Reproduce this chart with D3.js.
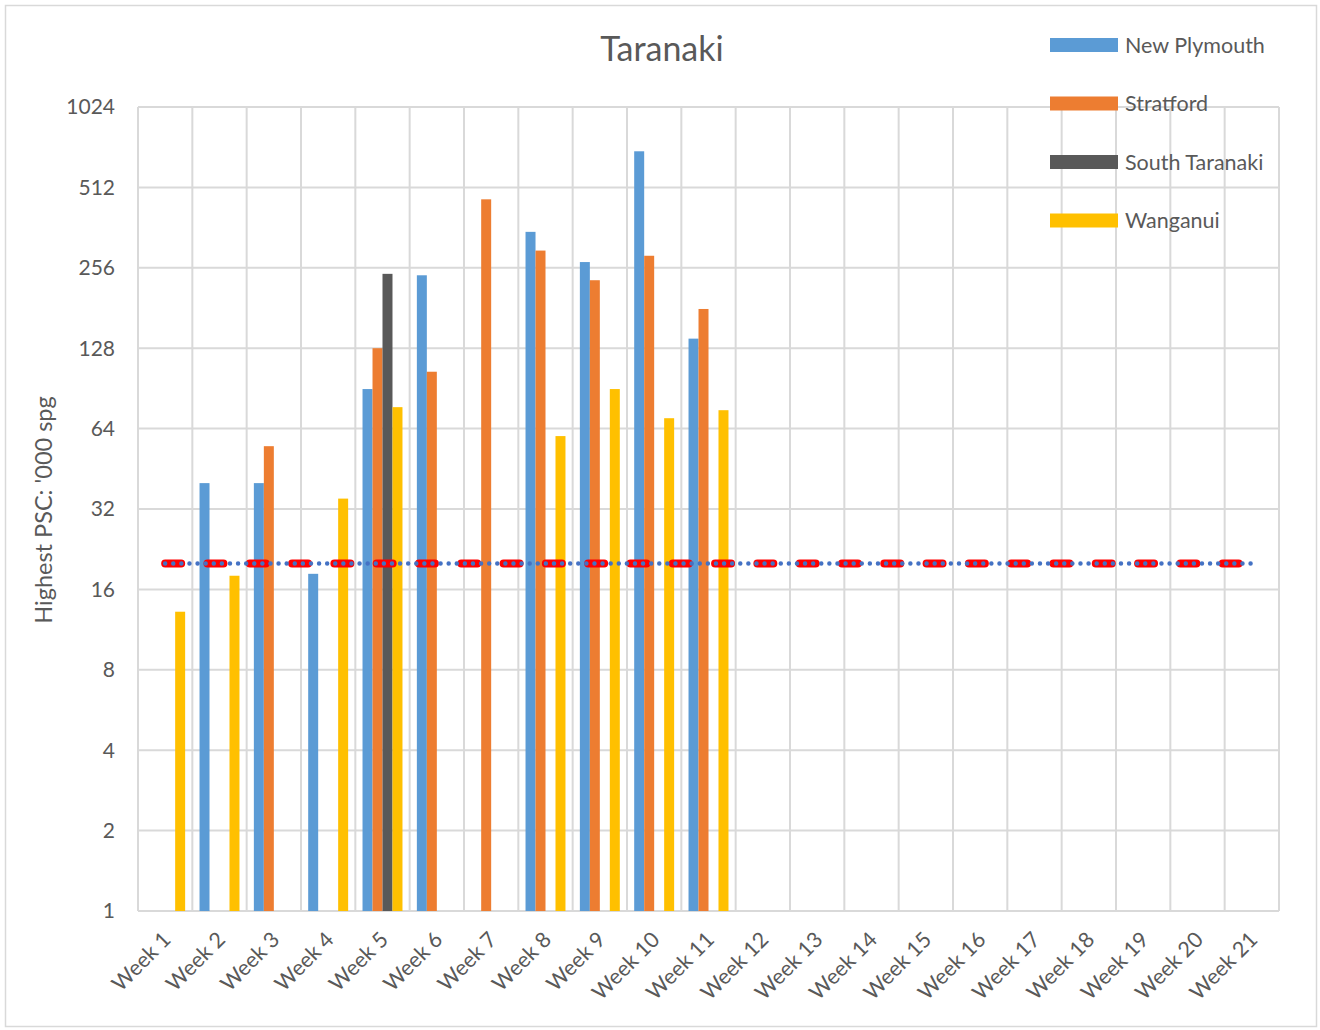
<!DOCTYPE html>
<html>
<head>
<meta charset="utf-8">
<script src="https://cdn.jsdelivr.net/npm/d3@7"></script>
<style>
  body { margin: 0; background: #fff; }
  text { font-family: Lato, "Open Sans", sans-serif; fill: #595959; }
</style>
</head>
<body>
<div id="chart"></div>
<script>
// data
var weeks = ["Week 1", "Week 2", "Week 3", "Week 4", "Week 5", "Week 6", "Week 7",
    "Week 8", "Week 9", "Week 10", "Week 11", "Week 12", "Week 13", "Week 14",
    "Week 15", "Week 16", "Week 17", "Week 18", "Week 19", "Week 20", "Week 21"];
var seriesNames = ["New Plymouth", "Stratford", "South Taranaki", "Wanganui"];
var newPlymouth = [null, 40, 40, 18.3, 90, 240, null, 349, 269, 699, 139];
var stratford = [null, null, 55, null, 128, 104.5, 462, 297, 230, 284, 179.5];
var southTaranaki = [null, null, null, null, 243];
var wanganui = [13.2, 18, null, 35, 77, null, null, 60, 90, 70, 75];
var threshold = [20, 20, 20, 20, 20, 20, 20, 20, 20, 20, 20, 20, 20, 20, 20, 20, 20, 20, 20, 20, 20];
var yTicks = [1, 2, 4, 8, 16, 32, 64, 128, 256, 512, 1024];

var colors = ["#5B9BD5", "#ED7D31", "#595959", "#FFC000"];
var allSeries = [newPlymouth, stratford, southTaranaki, wanganui];

var W = 1320, H = 1030;
var plotL = 138, plotR = 1279, plotT = 107, plotB = 911;

var svg = d3.select("#chart").append("svg")
    .attr("width", W)
    .attr("height", H);

// chart border
svg.append("rect")
    .attr("x", 5.5).attr("y", 5.5)
    .attr("width", 1311).attr("height", 1021)
    .attr("fill", "#fff")
    .attr("stroke", "#d9d9d9")
    .attr("stroke-width", 1.5);

var x0 = d3.scaleBand().domain(weeks).range([plotL, plotR]).padding(0);
var x1 = d3.scaleBand().domain(seriesNames).range([0, x0.bandwidth()])
    .paddingInner(0).paddingOuter(0.72);
var y = d3.scaleLog().base(2).domain([1, 1024]).range([plotB, plotT]);

// horizontal gridlines
svg.append("g").selectAll("line")
    .data(yTicks)
    .enter().append("line")
    .attr("x1", plotL).attr("x2", plotR)
    .attr("y1", function(d) { return y(d); })
    .attr("y2", function(d) { return y(d); })
    .attr("stroke", "#d9d9d9")
    .attr("stroke-width", 2);

// vertical gridlines
var edges = weeks.map(function(w) { return x0(w); }).concat([plotR]);
svg.append("g").selectAll("line")
    .data(edges)
    .enter().append("line")
    .attr("x1", function(d) { return d; })
    .attr("x2", function(d) { return d; })
    .attr("y1", plotT).attr("y2", plotB)
    .attr("stroke", "#d9d9d9")
    .attr("stroke-width", 2);

// bars
allSeries.forEach(function(vals, si) {
    var rows = [];
    vals.forEach(function(v, i) {
        if (v != null) rows.push({ week: weeks[i], v: v });
    });
    svg.append("g").selectAll("rect")
        .data(rows)
        .enter().append("rect")
        .attr("x", function(d) { return x0(d.week) + x1(seriesNames[si]); })
        .attr("width", x1.bandwidth())
        .attr("y", function(d) { return y(d.v); })
        .attr("height", function(d) { return y(1) - y(d.v); })
        .attr("fill", colors[si]);
});

// threshold line: red dashes with blue dots on top
var line = d3.line()
    .x(function(d, i) { return x0(weeks[i]) + x0.bandwidth() / 2; })
    .y(function(d) { return y(d); });

svg.append("path")
    .datum(threshold)
    .attr("d", line)
    .attr("fill", "none")
    .attr("stroke", "#FF0000")
    .attr("stroke-width", 8)
    .attr("stroke-linecap", "round")
    .attr("stroke-dasharray", "16 26.3");

svg.append("path")
    .datum(threshold)
    .attr("d", line)
    .attr("fill", "none")
    .attr("stroke", "#4472C4")
    .attr("stroke-width", 4.5)
    .attr("stroke-linecap", "round")
    .attr("stroke-dasharray", "0 8.1");

// y tick labels
svg.append("g").selectAll("text")
    .data(yTicks)
    .enter().append("text")
    .attr("x", 115)
    .attr("y", function(d) { return y(d); })
    .attr("dy", "0.35em")
    .attr("text-anchor", "end")
    .style("font-size", "21px")
    .text(function(d) { return d; });

// x tick labels
svg.append("g").selectAll("text")
    .data(weeks)
    .enter().append("text")
    .attr("transform", function(d) {
        return "translate(" + (x0(d) + x0.bandwidth() / 2 + 7) + ",941) rotate(-45)";
    })
    .attr("text-anchor", "end")
    .style("font-size", "21.5px")
    .text(function(d) { return d; });

// axis title
svg.append("text")
    .attr("transform", "translate(52,510) rotate(-90)")
    .attr("text-anchor", "middle")
    .style("font-size", "23.5px")
    .text("Highest PSC: '000 spg");

// title
svg.append("text")
    .attr("x", 662)
    .attr("y", 61)
    .attr("text-anchor", "middle")
    .style("font-size", "34px")
    .text("Taranaki");

// legend
var legend = svg.append("g").selectAll("g")
    .data(seriesNames)
    .enter().append("g")
    .attr("transform", function(d, i) { return "translate(1050," + (45 + i * 58.5) + ")"; });

legend.append("rect")
    .attr("x", 0).attr("y", -7)
    .attr("width", 68).attr("height", 14)
    .attr("fill", function(d, i) { return colors[i]; });

legend.append("text")
    .attr("x", 75)
    .attr("y", 0)
    .attr("dy", "0.35em")
    .style("font-size", "21.5px")
    .text(function(d) { return d; });
</script>
</body>
</html>
